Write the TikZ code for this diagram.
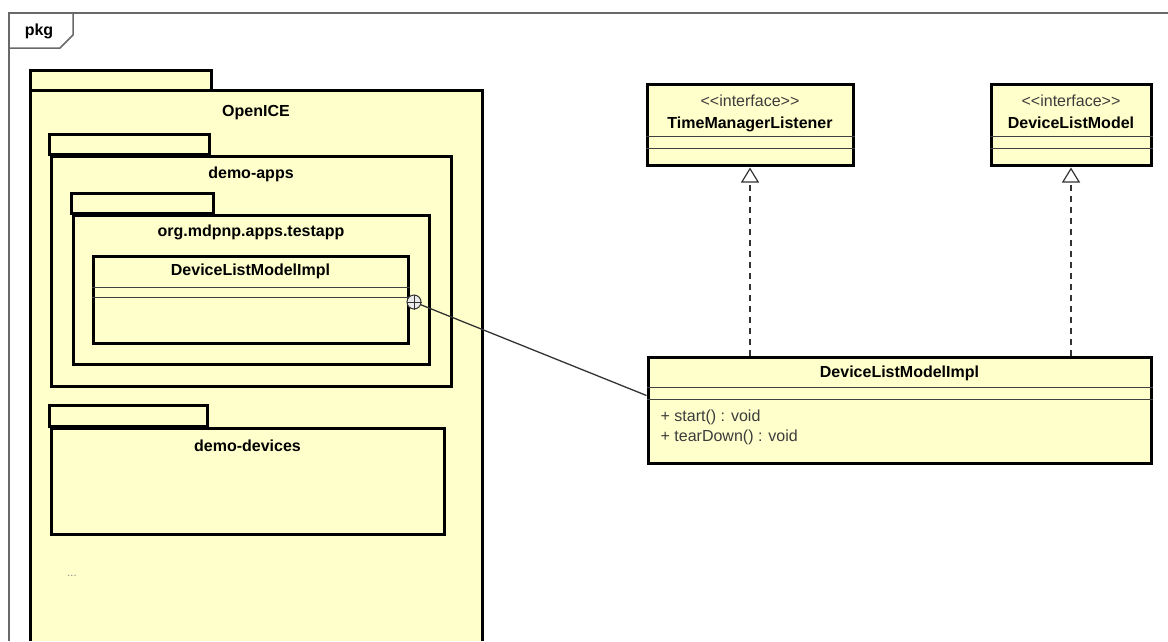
\documentclass[tikz,border=0pt]{standalone}
\usepackage{fontspec}
\usepackage{xcolor}
\newfontfamily\umlfont{Liberation Sans}
\newcommand{\umlsize}{\umlfont\fontsize{16}{19}\selectfont}
\definecolor{pkgfill}{RGB}{255,255,204}
\definecolor{framegray}{RGB}{105,105,105}
\definecolor{textgray}{RGB}{60,60,60}
\usetikzlibrary{arrows.meta}

\tikzset{
  pkgline/.style={draw=black, line width=3pt, fill=pkgfill},
  pkgbody/.style={draw=black, line width=3pt, fill=pkgfill, inner sep=0pt},
  sepline/.style={draw=black!75, line width=1.6pt},
  umltitle/.style={anchor=base, font=\umlsize\bfseries, inner sep=0pt},
  umltext/.style={anchor=base west, font=\umlsize, text=textgray, inner sep=0pt},
  stereo/.style={anchor=base, font=\umlsize, text=textgray, inner sep=0pt},
  realize/.style={draw=black!80, line width=1.2pt, dash pattern=on 6pt off 5pt,
    -{Triangle[open, length=15pt, width=18pt, line width=1.2pt]}},
}

\begin{document}
\begin{tikzpicture}[x=1pt, y=-1pt]
\useasboundingbox (0,0) rectangle (1168,641);

\draw[framegray, line width=1.5pt] (9,641) -- (9,13) -- (1168,13);
\draw[framegray, line width=1.5pt] (9,48) -- (60,48) -- (73,35) -- (73,13);
\node[umltitle] (pkg) at (39,35) {pkg};

\draw[pkgline] (30,70) rectangle (211,90);
\fill[pkgfill] (30,90) rectangle (482,641);
\draw[line width=3pt] (30,641) -- (30,90) -- (482,90) -- (482,641);
\node[umltitle] (openice) at (256,116) {OpenICE};

\node[pkgbody, minimum width=400pt, minimum height=230pt] (demoapps) at (251,271) {};
\draw[pkgline] (demoapps.north west) rectangle ++(160,-20);
\node[umltitle] (demoappsname) at ([yshift=-24pt]demoapps.north) {demo-apps};

\node[pkgbody, minimum width=356pt, minimum height=149pt] (testapp) at (251,289.5) {};
\draw[pkgline] (testapp.north west) rectangle ++(142,-20);
\node[umltitle] (testappname) at ([yshift=-23pt]testapp.north) {org.mdpnp.apps.testapp};

\node[pkgbody, minimum width=315pt, minimum height=87pt] (inner) at (250.5,299.5) {};
\node[umltitle] (innername) at ([yshift=-21pt]inner.north) {DeviceListModelImpl};
\draw[sepline] ([yshift=-33pt]inner.north west) -- ([yshift=-33pt]inner.north east);
\draw[sepline] ([yshift=-43pt]inner.north west) -- ([yshift=-43pt]inner.north east);

\node[pkgbody, minimum width=393pt, minimum height=106pt] (devices) at (247.5,481) {};
\draw[pkgline] (devices.north west) rectangle ++(158,-21);
\node[umltitle] (devicesname) at ([yshift=-25pt]devices.north) {demo-devices};

\node[font=\umlfont\fontsize{11}{13}\selectfont, text=gray] (more) at (72,576) {...};

\node[pkgbody, minimum width=206pt, minimum height=81pt] (tml) at (750,124.5) {};
\node[stereo] (tmlst) at ([yshift=-24pt]tml.north) {<<interface>>};
\node[umltitle] (tmlname) at ([yshift=-46pt]tml.north) {TimeManagerListener};
\draw[sepline] ([yshift=-54pt]tml.north west) -- ([yshift=-54pt]tml.north east);
\draw[sepline] ([yshift=-66pt]tml.north west) -- ([yshift=-66pt]tml.north east);

\node[pkgbody, minimum width=160pt, minimum height=81pt] (dlm) at (1071,124.5) {};
\node[stereo] (dlmst) at ([yshift=-24pt]dlm.north) {<<interface>>};
\node[umltitle] (dlmname) at ([yshift=-46pt]dlm.north) {DeviceListModel};
\draw[sepline] ([yshift=-54pt]dlm.north west) -- ([yshift=-54pt]dlm.north east);
\draw[sepline] ([yshift=-66pt]dlm.north west) -- ([yshift=-66pt]dlm.north east);

\node[pkgbody, minimum width=503pt, minimum height=106pt] (impl) at (899.5,410) {};
\node[umltitle] (implname) at ([yshift=-22pt]impl.north) {DeviceListModelImpl};
\draw[sepline] ([yshift=-32pt]impl.north west) -- ([yshift=-32pt]impl.north east);
\draw[sepline] ([yshift=-44pt]impl.north west) -- ([yshift=-44pt]impl.north east);
\node[umltext] (mstart) at ([xshift=14pt, yshift=-66pt]impl.north west) {+ start() : void};
\node[umltext] (mteardown) at ([xshift=14pt, yshift=-86pt]impl.north west) {+ tearDown() : void};

\draw[realize] (tml.south |- impl.north) -- ([yshift=-1pt]tml.south);
\draw[realize] (dlm.south |- impl.north) -- ([yshift=-1pt]dlm.south);

\node[circle, draw=black!80, fill=gray!15, line width=1pt, minimum size=14pt, inner sep=0pt] (nest) at (414,302) {};
\draw[black!80, line width=1pt] (nest.north) -- (nest.south) (nest.west) -- (nest.east);
\coordinate (implport) at ([yshift=-40pt]impl.north west);
\draw[black!80, line width=1.3pt] (nest) -- (implport);
\end{tikzpicture}
\end{document}
